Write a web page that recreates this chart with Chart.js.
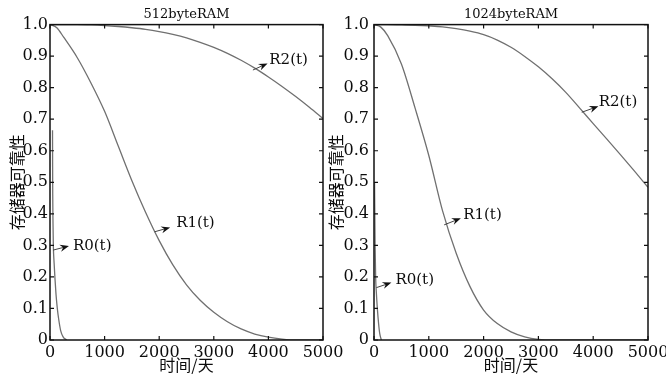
<!DOCTYPE html>
<html>
<head>
<meta charset="utf-8">
<title>存储器可靠性</title>
<script src="https://cdn.jsdelivr.net/npm/chart.js@4.4.1/dist/chart.umd.min.js"></script>
<style>
  html, body { margin: 0; padding: 0; background: #fff; }
  #wrap { position: relative; width: 666px; height: 377px; overflow: hidden; background: #fff; }
  canvas { position: absolute; top: 0; }
  #left { left: 0; }
  #right { left: 326px; }
</style>
</head>
<body>
<div id="wrap">
  <canvas id="left" width="345" height="377"></canvas>
  <canvas id="right" width="340" height="377"></canvas>
</div>
<script>
// time axis (days)
const days = [0, 250, 500, 750, 1000, 1250, 1500, 1750, 2000, 2250, 2500,
              2750, 3000, 3250, 3500, 3750, 4000, 4250, 4500, 4750, 5000];
const r1Days = [0, 125, 250, 500, 750, 1000, 1250, 1500, 1750, 2000, 2250, 2500,
                2750, 3000, 3250, 3500, 3750, 4000, 4250, 4500, 4750, 5000];

// 512byteRAM
const r1_512 = [1.0, 0.99, 0.96, 0.895, 0.815, 0.725, 0.615, 0.505, 0.405, 0.315, 0.238,
                0.175, 0.126, 0.088, 0.058, 0.035, 0.019, 0.009, 0.003, 0.0, 0.0, 0.0];
const r2_512 = [1.0, 1.0, 1.0, 0.999, 0.997, 0.994, 0.99, 0.985, 0.978, 0.969, 0.958,
                0.944, 0.928, 0.909, 0.887, 0.862, 0.834, 0.804, 0.772, 0.738, 0.702];
const r0Days_512 = [46, 48, 50, 55, 61, 75, 91, 110, 134, 160, 195, 240, 305];
const r0_512 = [0.665, 0.55, 0.46, 0.37, 0.30, 0.245, 0.195, 0.145, 0.10, 0.065, 0.03, 0.01, 0.0];

// 1024byteRAM
const r1_1024 = [1.0, 0.992, 0.965, 0.875, 0.735, 0.585, 0.41, 0.275, 0.17, 0.095, 0.052,
                 0.026, 0.01, 0.002, 0.0, 0.0, 0.0, 0.0, 0.0, 0.0, 0.0, 0.0];
const r2_1024 = [1.0, 1.0, 0.999, 0.998, 0.996, 0.993, 0.987, 0.979, 0.968, 0.951, 0.928,
                 0.899, 0.866, 0.828, 0.785, 0.736, 0.686, 0.637, 0.587, 0.536, 0.484];
const r0Days_1024 = [10, 20, 30, 43, 61, 85, 105, 135];
const r0_1024 = [0.5, 0.3, 0.2, 0.15, 0.1, 0.05, 0.02, 0.0];

const xTicks = [0, 1000, 2000, 3000, 4000, 5000];
const yLabel = '存储器可靠性';
const xLabel = '时间/天';

const lineColor = '#707070';
const textColor = '#0c0c0c';
const serif = 'DejaVu Serif';
const cjk = 'Noto Sans CJK SC';

function pts(xs, ys) {
    return xs.map((x, i) => ({x: x, y: ys[i]}));
}

function drawArrow(ctx, x1, y1, x2, y2) {
    const a = Math.atan2(y2 - y1, x2 - x1);
    const c = Math.cos(a), s = Math.sin(a);
    ctx.strokeStyle = '#444';
    ctx.lineWidth = 1;
    ctx.beginPath();
    ctx.moveTo(x1, y1);
    ctx.lineTo(x2 - 5 * c, y2 - 5 * s);
    ctx.stroke();
    ctx.fillStyle = '#111';
    ctx.beginPath();
    ctx.moveTo(x2, y2);
    ctx.lineTo(x2 - 9 * c + 3.5 * s, y2 - 9 * s - 3.5 * c);
    ctx.lineTo(x2 - 6 * c, y2 - 6 * s);
    ctx.lineTo(x2 - 9 * c - 3.5 * s, y2 - 9 * s + 3.5 * c);
    ctx.closePath();
    ctx.fill();
}

// box frame, inward ticks on all four sides, and the R(t) callouts
const framePlugin = {
    id: 'frame',
    afterDatasetsDraw(chart, args, opts) {
        const {ctx, chartArea: a, scales: {x, y}} = chart;
        ctx.save();
        ctx.strokeStyle = '#111';
        ctx.lineWidth = 1.5;
        ctx.strokeRect(a.left, a.top, a.right - a.left, a.bottom - a.top);
        ctx.lineWidth = 1.2;
        ctx.beginPath();
        x.ticks.forEach(t => {
            const px = x.getPixelForValue(t.value);
            ctx.moveTo(px, a.bottom); ctx.lineTo(px, a.bottom - 4);
            ctx.moveTo(px, a.top); ctx.lineTo(px, a.top + 4);
        });
        y.ticks.forEach(t => {
            const py = y.getPixelForValue(t.value);
            ctx.moveTo(a.left, py); ctx.lineTo(a.left + 4, py);
            ctx.moveTo(a.right, py); ctx.lineTo(a.right - 4, py);
        });
        ctx.stroke();

        (opts.notes || []).forEach(n => {
            drawArrow(ctx,
                x.getPixelForValue(n.from[0]), y.getPixelForValue(n.from[1]),
                x.getPixelForValue(n.to[0]), y.getPixelForValue(n.to[1]));
            ctx.fillStyle = textColor;
            ctx.font = '15px "' + serif + '"';
            ctx.textAlign = 'left';
            ctx.textBaseline = 'middle';
            ctx.fillText(n.text, x.getPixelForValue(n.at[0]), y.getPixelForValue(n.at[1]));
        });
        ctx.restore();
    }
};

function makeChart(id, title, r0x, r0, r1, r2, notes, yWidth, padRight, yTitlePad, yTickPad) {
    const ds = (data) => ({
        data: data,
        showLine: true,
        borderColor: lineColor,
        borderWidth: 1.3,
        pointRadius: 0,
        cubicInterpolationMode: 'monotone'
    });
    return new Chart(document.getElementById(id), {
        type: 'scatter',
        data: {
            datasets: [ds(pts(r0x, r0)), ds(pts(r1Days, r1)), ds(pts(days, r2))]
        },
        options: {
            responsive: false,
            animation: false,
            layout: {padding: {left: 0, right: padRight, top: 0, bottom: 0}},
            plugins: {
                legend: {display: false},
                tooltip: {enabled: false},
                title: {
                    display: true,
                    text: title,
                    fullSize: false,
                    color: textColor,
                    font: {family: serif, size: 13, weight: 'normal'},
                    padding: {top: 7, bottom: 2}
                },
                frame: {notes: notes}
            },
            scales: {
                x: {
                    type: 'linear',
                    min: 0,
                    max: 5000,
                    afterBuildTicks: s => { s.ticks = xTicks.map(v => ({value: v})); },
                    ticks: {
                        color: textColor,
                        font: {family: serif, size: 16},
                        padding: 3,
                        maxRotation: 0,
                        autoSkip: false,
                        callback: v => String(v)
                    },
                    grid: {display: false, drawTicks: false},
                    border: {display: false},
                    title: {
                        display: true,
                        text: xLabel,
                        color: textColor,
                        font: {family: cjk, size: 16},
                        padding: {top: 0, bottom: 2}
                    },
                    afterFit: s => { s.height = 37; s.paddingLeft = 0; s.paddingRight = 0; }
                },
                y: {
                    min: 0,
                    max: 1,
                    ticks: {
                        stepSize: 0.1,
                        color: textColor,
                        font: {family: serif, size: 16},
                        padding: yTickPad,
                        callback: v => (Math.abs(v) < 1e-9 ? '0' : v.toFixed(1))
                    },
                    grid: {display: false, drawTicks: false},
                    border: {display: false},
                    title: {
                        display: true,
                        text: yLabel,
                        color: textColor,
                        font: {family: cjk, size: 16},
                        padding: {top: yTitlePad, bottom: 0}
                    },
                    afterFit: s => { s.width = yWidth; s.paddingTop = 0; s.paddingBottom = 0; }
                }
            }
        },
        plugins: [framePlugin]
    });
}

makeChart('left', '512byteRAM', r0Days_512, r0_512, r1_512, r2_512, [
    {text: 'R2(t)', from: [3716, 0.856], to: [3985, 0.877], at: [4017, 0.887]},
    {text: 'R1(t)', from: [1914, 0.343], to: [2200, 0.357], at: [2310, 0.37]},
    {text: 'R0(t)', from: [55, 0.285], to: [347, 0.298], at: [420, 0.298]}
], 50, 22, 7, 2);

makeChart('right', '1024byteRAM', r0Days_1024, r0_1024, r1_1024, r2_1024, [
    {text: 'R2(t)', from: [3791, 0.722], to: [4095, 0.741], at: [4100, 0.755]},
    {text: 'R1(t)', from: [1280, 0.365], to: [1585, 0.386], at: [1627, 0.396]},
    {text: 'R0(t)', from: [43, 0.166], to: [318, 0.182], at: [391, 0.19]}
], 48, 18, 0, 5);
</script>
</body>
</html>
